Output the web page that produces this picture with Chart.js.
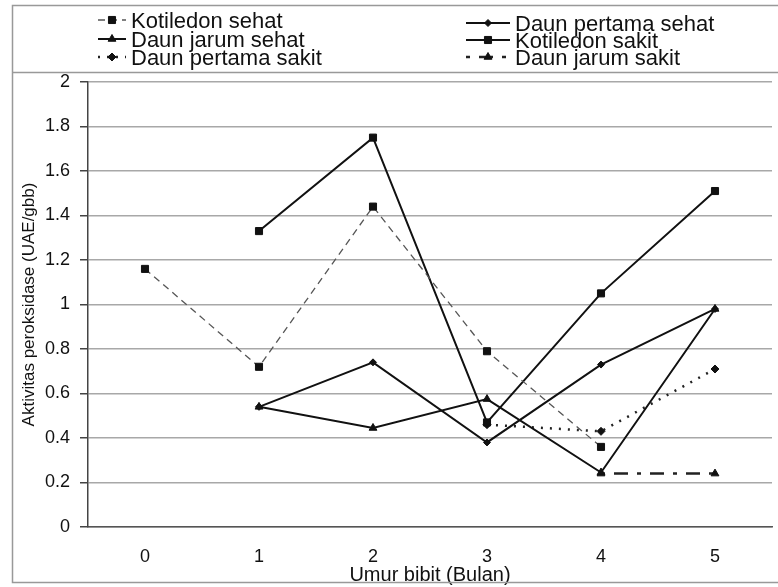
<!DOCTYPE html>
<html>
<head>
<meta charset="utf-8">
<title>Aktivitas peroksidase</title>
<script src="https://cdn.jsdelivr.net/npm/chart.js@4.4.0/dist/chart.umd.min.js"></script>
<style>
    html, body { margin: 0; padding: 0; background: #fff; }
    canvas { display: block; }
</style>
</head>
<body>
<canvas id="peroksidaseChart" width="778" height="587"></canvas>
<script>
// Data
const months = ['0', '1', '2', '3', '4', '5'];
const yTickValues = [0, 0.2, 0.4, 0.6, 0.8, 1, 1.2, 1.4, 1.6, 1.8, 2];

const kotiledonSehat = [1.16, 0.72, 1.44, 0.79, 0.36, null];
const daunPertamaSehat = [null, 0.54, 0.74, 0.38, 0.73, 0.98];
const daunJarumSehat = [null, 0.54, 0.445, 0.575, 0.245, 0.98];
const kotiledonSakit = [null, 1.33, 1.75, 0.47, 1.05, 1.51];
const daunPertamaSakit = [null, null, null, 0.46, 0.43, 0.71];
const daunJarumSakit = [null, null, null, null, 0.24, 0.24];

const FONT = '"Liberation Sans", Arial, sans-serif';

// Frame and two-column legend drawn on top of the chart
const frameLegend = {
    id: 'frameLegend',
    afterDraw(chart) {
        const ctx = chart.ctx;
        ctx.save();
        ctx.strokeStyle = '#999';
        ctx.lineWidth = 1.5;
        ctx.strokeRect(12.5, 5.5, 800, 577);
        ctx.beginPath();
        ctx.moveTo(12, 72.5);
        ctx.lineTo(778, 72.5);
        ctx.stroke();

        const cols = [
            { x1: 98, x2: 126, tx: 131, rows: [28, 47, 65] },
            { x1: 466, x2: 510, tx: 515, rows: [31, 48, 65] }
        ];
        ctx.font = '22px ' + FONT;
        ctx.textBaseline = 'alphabetic';
        ctx.textAlign = 'left';
        chart.data.datasets.forEach((ds, i) => {
            const c = cols[i % 2];
            const base = c.rows[Math.floor(i / 2)];
            const my = base - 8;
            ctx.strokeStyle = ds.borderColor;
            ctx.lineWidth = ds.borderWidth;
            ctx.setLineDash(ds.borderDash || []);
            ctx.beginPath();
            ctx.moveTo(c.x1, my);
            ctx.lineTo(c.x2, my);
            ctx.stroke();
            ctx.setLineDash([]);
            ctx.fillStyle = ds.pointBackgroundColor;
            ctx.strokeStyle = ds.pointBorderColor;
            ctx.lineWidth = 1;
            Chart.helpers.drawPoint(ctx, {
                pointStyle: ds.pointStyle,
                radius: ds.pointRadius,
                rotation: 0,
                borderWidth: 1
            }, (c.x1 + c.x2) / 2, my);
            ctx.fillStyle = '#111';
            ctx.fillText(ds.label, c.tx, base);
        });
        ctx.restore();
    }
};

function series(label, data, style) {
    return Object.assign({
        label: label,
        data: data,
        borderColor: '#111',
        borderWidth: 2,
        pointBackgroundColor: '#111',
        pointBorderColor: '#111',
        pointBorderWidth: 1,
        tension: 0,
        fill: false
    }, style);
}

const ctx = document.getElementById('peroksidaseChart').getContext('2d');
const peroksidaseChart = new Chart(ctx, {
    type: 'line',
    data: {
        labels: months,
        datasets: [
            series('Kotiledon sehat', kotiledonSehat, {
                borderColor: '#555', borderWidth: 1.3, borderDash: [7, 5],
                pointStyle: 'rect', pointRadius: 5
            }),
            series('Daun pertama sehat', daunPertamaSehat, {
                pointStyle: 'rectRot', pointRadius: 3.5
            }),
            series('Daun jarum sehat', daunJarumSehat, {
                pointStyle: 'triangle', pointRadius: 4.5
            }),
            series('Kotiledon sakit', kotiledonSakit, {
                pointStyle: 'rect', pointRadius: 5
            }),
            series('Daun pertama sakit', daunPertamaSakit, {
                borderColor: '#222', borderWidth: 2.5, borderDash: [2, 7],
                pointStyle: 'rectRot', pointRadius: 4
            }),
            series('Daun jarum sakit', daunJarumSakit, {
                borderColor: '#222', borderWidth: 2.5, borderDash: [4, 9, 14, 9],
                pointStyle: 'triangle', pointRadius: 4.5
            })
        ]
    },
    options: {
        responsive: false,
        animation: false,
        layout: {
            padding: { top: 82, right: 3, left: 0, bottom: 0 }
        },
        scales: {
            x: {
                offset: true,
                grid: { display: false, drawTicks: false },
                border: { display: true, color: '#555', width: 1.5 },
                ticks: {
                    padding: 19,
                    color: '#111',
                    font: { family: FONT, size: 18 }
                },
                title: {
                    display: true,
                    text: 'Umur bibit (Bulan)',
                    color: '#111',
                    font: { family: FONT, size: 20 },
                    padding: { top: 0, bottom: 0 }
                },
                afterFit: function(scale) { scale.height = 60; }
            },
            y: {
                min: 0,
                max: 2,
                afterBuildTicks: function(scale) {
                    scale.ticks = yTickValues.map(v => ({ value: v }));
                },
                grid: {
                    color: '#a8a8a8',
                    lineWidth: 1.5,
                    tickLength: 8,
                    tickColor: '#444'
                },
                border: { display: true, color: '#444', width: 1.5 },
                ticks: {
                    padding: 10,
                    color: '#111',
                    font: { family: FONT, size: 18 },
                    callback: function(value) { return String(+value.toFixed(1)); }
                },
                title: {
                    display: true,
                    text: 'Aktivitas peroksidase (UAE/gbb)',
                    color: '#111',
                    font: { family: FONT, size: 17 },
                    padding: { top: 19, bottom: 0 }
                },
                afterFit: function(scale) { scale.width = 88; }
            }
        },
        plugins: {
            legend: { display: false },
            tooltip: { enabled: false }
        }
    },
    plugins: [frameLegend]
});
</script>
</body>
</html>
